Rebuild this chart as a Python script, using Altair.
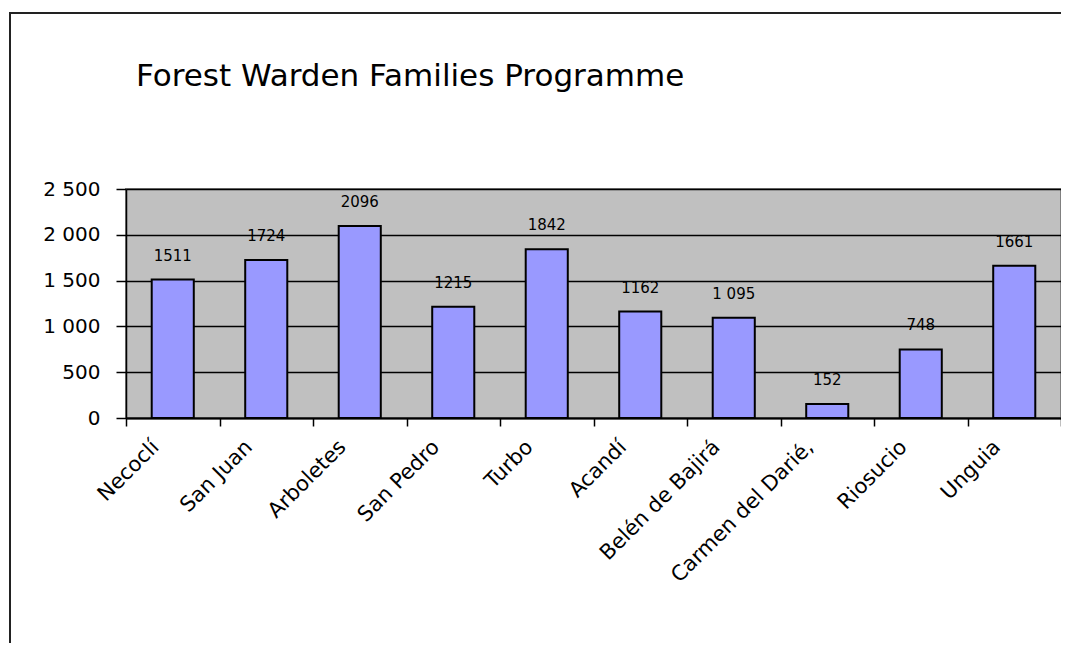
import altair as alt
import pandas as pd

categories = ["Necoclí", "San Juan", "Arboletes", "San Pedro", "Turbo", "Acandí",
              "Belén de Bajirá", "Carmen del Darié,", "Riosucio", "Unguia"]
values = [1511, 1724, 2096, 1215, 1842, 1162, 1095, 152, 748, 1661]
value_labels = ["1511", "1724", "2096", "1215", "1842", "1162", "1 095", "152", "748", "1661"]
y_ticks = [0, 500, 1000, 1500, 2000, 2500]
title_text = "Forest Warden Families Programme"

df = pd.DataFrame({"cat": categories, "val": values, "lab": value_labels})

W, H = 935, 229

xenc = alt.X("cat:N", sort=categories, title=None,
             scale=alt.Scale(paddingInner=0, paddingOuter=0),
             axis=alt.Axis(labels=False, tickBand="extent", tickColor="black",
                           tickSize=8, tickWidth=1.5, domainColor="black", domainWidth=2,
                           grid=False))
yenc = alt.Y("val:Q", title=None,
             scale=alt.Scale(domain=[0, 2500], nice=False),
             axis=alt.Axis(values=y_ticks, labelFont="DejaVu Sans", labelFontSize=20,
                           labelColor="black", tickColor="black", tickSize=10, tickWidth=1.5,
                           domainColor="black", domainWidth=1.5, gridColor="black",
                           gridWidth=1.5, gridOpacity=1, labelPadding=16,
                           labelExpr="replace(format(datum.value, ','), ',', ' ')"))

bars = alt.Chart(df).mark_bar(fill="#9999FF", stroke="black", strokeWidth=2,
                              width=alt.RelativeBandSize(0.45)).encode(x=xenc, y=yenc)

texts = alt.Chart(df).mark_text(font="DejaVu Sans", fontSize=15, color="black",
                                baseline="middle", dy=-24).encode(
    x=alt.X("cat:N", sort=categories), y=alt.Y("val:Q"), text="lab:N")

xlabels = alt.Chart(df).mark_text(font="DejaVu Sans", fontSize=21, color="black",
                                  angle=315, align="right", baseline="top",
                                  dx=-22, dy=-13).encode(
    x=alt.X("cat:N", sort=categories), y=alt.value(H + 12), text="cat:N")

frame = alt.Chart(alt.Data(values=[{"a": 1}])).mark_rect(
    fill="transparent", stroke="#222222", strokeWidth=2, clip=False).encode(
    x=alt.value(-116), x2=alt.value(980), y=alt.value(-176), y2=alt.value(500))

title = alt.Chart(alt.Data(values=[{"t": title_text}])).mark_text(
    font="DejaVu Sans", fontSize=31, color="black", align="left", baseline="alphabetic").encode(
    x=alt.value(10), y=alt.value(-103), text="t:N")

chart = alt.layer(frame, bars, texts, xlabels, title).properties(
    width=W, height=H,
    autosize=alt.AutoSizeParams(type="none"),
    padding={"left": 118, "top": 181, "right": 0, "bottom": 225},
).configure_view(fill="#C0C0C0", stroke="#808080", strokeWidth=2)

chart.save("out.html", embed_options={"renderer": "svg", "actions": False})
